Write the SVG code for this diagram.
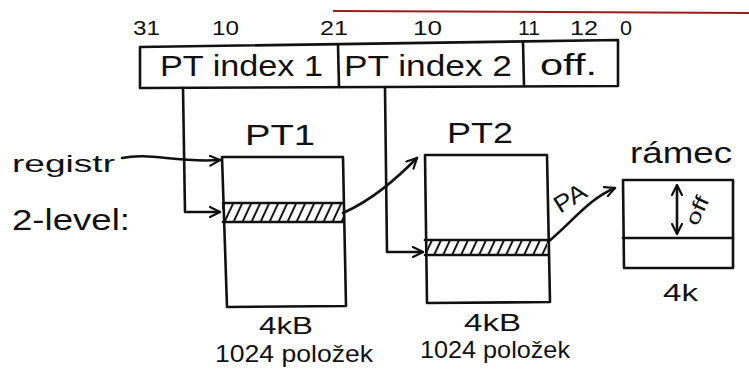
<svg xmlns="http://www.w3.org/2000/svg" width="749" height="383" viewBox="0 0 749 383">
<style>
.ln{fill:none;stroke:#111;stroke-width:2.6;stroke-linecap:round;stroke-linejoin:round}
.t{font-family:"Liberation Sans",Arial,sans-serif;fill:#111}
.big{font-size:30px}
.mid{font-size:24px}
.bit{font-size:21px}
.sm{font-size:20px}
</style>
<defs>
<marker id="ah" viewBox="0 0 12 12" refX="11" refY="6" markerWidth="12" markerHeight="12" markerUnits="userSpaceOnUse" orient="auto">
<path d="M1,1 L11,6 L1,11" fill="none" stroke="#111" stroke-width="2.2" stroke-linecap="round"/>
</marker>
<marker id="ah2" viewBox="0 0 12 12" refX="10" refY="6" markerWidth="12" markerHeight="12" markerUnits="userSpaceOnUse" orient="auto-start-reverse">
<path d="M1,1 L11,6 L1,11" fill="none" stroke="#111" stroke-width="2.2" stroke-linecap="round"/>
</marker>
<pattern id="hatch" width="9" height="20" patternUnits="userSpaceOnUse" patternTransform="skewX(-25)">
<line x1="4" y1="0" x2="4" y2="20" stroke="#111" stroke-width="2.2"/>
</pattern>
</defs>
<rect width="749" height="383" fill="#fff"/>
<line x1="333" y1="11" x2="749" y2="13" stroke="#9b1c1c" stroke-width="2"/>

<g id="bits">
<text class="t bit" x="133" y="35" textLength="27" lengthAdjust="spacingAndGlyphs">31</text>
<text class="t bit" x="212" y="35" textLength="27" lengthAdjust="spacingAndGlyphs">10</text>
<text class="t bit" x="320" y="35" textLength="28" lengthAdjust="spacingAndGlyphs">21</text>
<text class="t bit" x="413" y="35" textLength="29" lengthAdjust="spacingAndGlyphs">10</text>
<text class="t bit" x="518" y="35" textLength="22" lengthAdjust="spacingAndGlyphs">11</text>
<text class="t bit" x="570" y="35" textLength="28" lengthAdjust="spacingAndGlyphs">12</text>
<text class="t bit" x="620" y="35" textLength="12" lengthAdjust="spacingAndGlyphs">0</text>
</g>

<g id="address">
<path class="ln" d="M140,47 L618,40 L618,86 L140,88 Z"/>
<line class="ln" x1="338" y1="45" x2="339" y2="87"/>
<line class="ln" x1="523" y1="42" x2="524" y2="86"/>
<text class="t big" x="160" y="76" textLength="163" lengthAdjust="spacingAndGlyphs">PT index 1</text>
<text class="t big" x="344" y="76" textLength="168" lengthAdjust="spacingAndGlyphs">PT index 2</text>
<text class="t big" x="540" y="75" textLength="57" lengthAdjust="spacingAndGlyphs">off.</text>
</g>

<g id="registr">
<text class="t mid" x="12" y="172" textLength="103" lengthAdjust="spacingAndGlyphs">registr</text>
</g>
<g id="label2level">
<text class="t big" x="12" y="230" textLength="118" lengthAdjust="spacingAndGlyphs">2-level:</text>
</g>

<g id="pt1">
<text class="t big" x="245" y="145" textLength="70" lengthAdjust="spacingAndGlyphs">PT1</text>
<rect x="222" y="203" width="121" height="19" fill="url(#hatch)"/>
<path class="ln" d="M222,157 L343,157 L346,306 L227,307 Z"/>
<line class="ln" x1="223" y1="203" x2="343" y2="203"/>
<line class="ln" x1="223" y1="222" x2="343" y2="222"/>
<text class="t mid" x="259" y="334" textLength="54" lengthAdjust="spacingAndGlyphs">4kB</text>
<text class="t mid" x="215" y="362" textLength="158" lengthAdjust="spacingAndGlyphs">1024 položek</text>
</g>

<g id="pt2">
<text class="t big" x="447" y="143" textLength="66" lengthAdjust="spacingAndGlyphs">PT2</text>
<rect x="425" y="240" width="122" height="15" fill="url(#hatch)"/>
<path class="ln" d="M425,155 L547,155 L550,302 L427,303 Z"/>
<line class="ln" x1="425" y1="240" x2="548" y2="240"/>
<line class="ln" x1="425" y1="255" x2="548" y2="255"/>
<text class="t mid" x="464" y="331" textLength="57" lengthAdjust="spacingAndGlyphs">4kB</text>
<text class="t mid" x="420" y="358" textLength="150" lengthAdjust="spacingAndGlyphs">1024 položek</text>
</g>

<g id="ramec">
<text class="t big" x="630" y="163" textLength="102" lengthAdjust="spacingAndGlyphs">rámec</text>
<path class="ln" d="M623,180 L733,180 L733,268 L624,268 Z"/>
<line class="ln" x1="623" y1="238" x2="733" y2="238"/>
<line class="ln" x1="677" y1="186" x2="677" y2="233" marker-start="url(#ah2)" marker-end="url(#ah2)"/>
<text class="t sm" x="0" y="0" transform="translate(697,227) rotate(-65)" textLength="30" lengthAdjust="spacingAndGlyphs">off</text>
<text class="t mid" x="663" y="301" textLength="35" lengthAdjust="spacingAndGlyphs">4k</text>
</g>

<g id="connectors">
<path class="ln" d="M122,158 C150,152 175,163 220,160" marker-end="url(#ah)"/>
<path class="ln" d="M183,88 L185,212 L220,212" marker-end="url(#ah)"/>
<path class="ln" d="M343,213 C372,200 395,180 417,158" marker-end="url(#ah)"/>
<path class="ln" d="M385,88 L387,252 L423,252" marker-end="url(#ah)"/>
<path class="ln" d="M548,242 C572,222 590,198 615,188" marker-end="url(#ah)"/>
<text class="t mid" x="0" y="0" transform="translate(560,214) rotate(-32)" textLength="34" lengthAdjust="spacingAndGlyphs">PA</text>
</g>
</svg>
